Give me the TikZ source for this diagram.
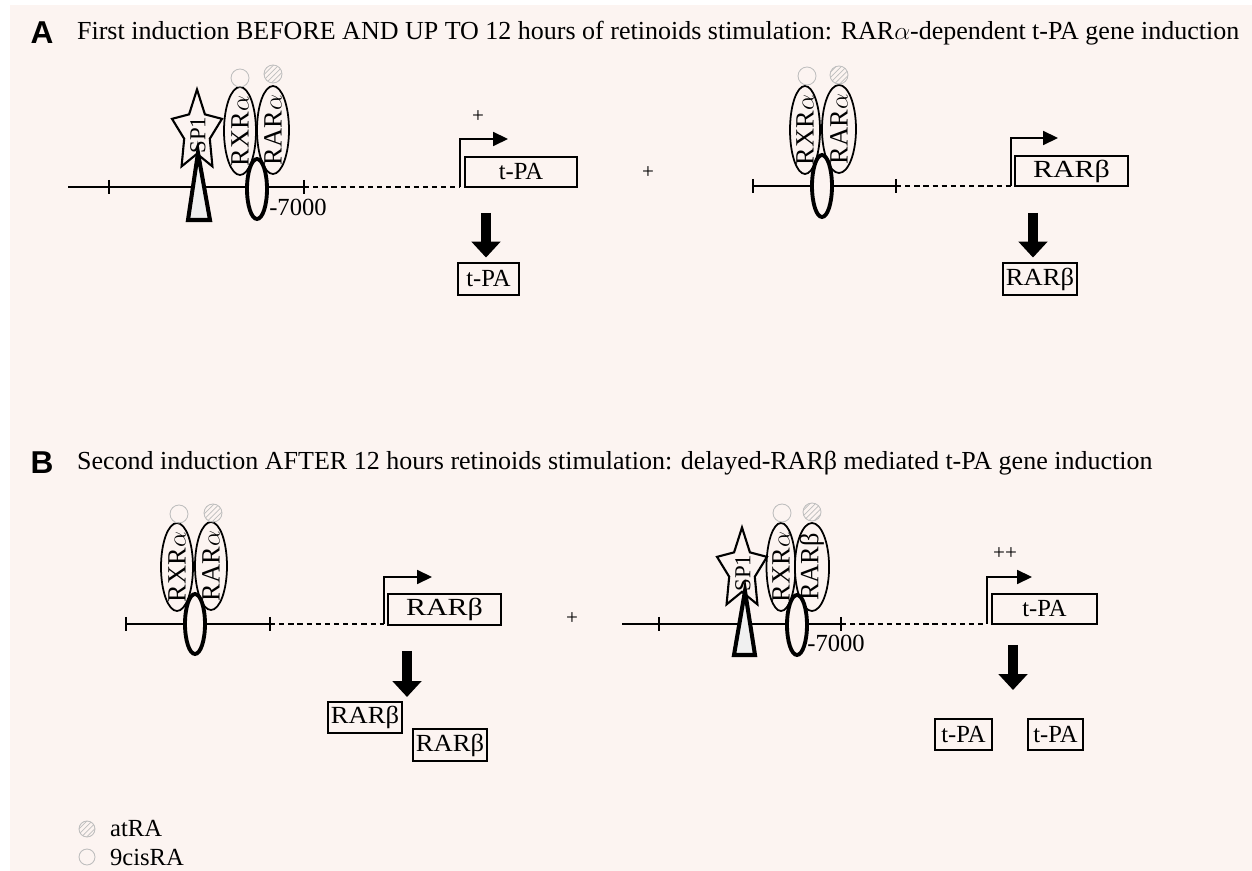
\documentclass[tikz,border=0pt]{standalone}
\usepackage{fontspec}
\setmainfont{Liberation Serif}
\newfontfamily\panelfont{Liberation Sans}
\usepackage{tikz}
\usetikzlibrary{positioning,shapes.geometric,arrows.meta,patterns}
\definecolor{bgpink}{RGB}{252,244,241}
\definecolor{ligand}{RGB}{190,190,190}
\newcommand{\rcp}[1]{\makebox[0pt]{#1}}
\newcommand{\rarb}{\scalebox{1.22}[1]{RARβ}}
\newcommand{\rarbp}{\scalebox{1.08}[1]{RARβ}}

\begin{document}
\begin{tikzpicture}[x=0.02cm, y=-0.02cm,
    every node/.style={inner sep=1pt, font=\fontsize{14}{16}\selectfont},
    dna/.style={line width=1.1pt},
    spacer/.style={line width=1.1pt, dash pattern=on 3pt off 2.2pt},
    promoter/.style={line width=0.9pt, -{Triangle[length=8.5pt,width=8pt]}},
    gene/.style={draw, line width=1.2pt, fill=bgpink, inner sep=0pt, minimum height=0.6cm},
    receptor/.style={draw, ellipse, line width=1pt, fill=bgpink, rotate=90, inner sep=0pt,
        minimum width=1.76cm, minimum height=0.64cm, font=\fontsize{15}{15}\selectfont},
    hinge/.style={draw, ellipse, line width=2.2pt, fill=bgpink, inner sep=0pt,
        minimum width=0.4cm, minimum height=1.2cm},
    spstar/.style={draw, star, star points=5, star point ratio=1.95, line width=1.2pt,
        fill=bgpink, inner sep=0pt, minimum size=1.05cm, yscale=1.62},
    wedgebox/.style={line width=2.3pt, fill=gray!12, line join=miter},
    cisra/.style={draw=ligand, circle, line width=0.5pt, inner sep=0pt, minimum size=0.36cm},
    atra/.style={cisra, pattern=north east lines, pattern color=ligand},
    bigarrow/.style={line width=5.7pt, -{Triangle[length=9pt,width=16pt]}},
    heading/.style={anchor=west, font=\fontsize{14.8}{17}\selectfont},
]
\useasboundingbox (0,0) rectangle (1252,871);
\fill[bgpink] (10,5) rectangle (1252,871);

% panel A
\node[font=\panelfont\bfseries\fontsize{18}{18}\selectfont] (LA) at (42,33) {A};
\node[heading] (TA) at (75,33) {First induction BEFORE AND UP TO 12 hours of retinoids stimulation: RAR$\alpha$-dependent t-PA gene induction};

% t-PA promoter, first induction
\coordinate (T1) at (460,187);
\draw[dna] (68,187) -- (304,187);
\draw[dna] (109,180) -- (109,194) (304,180) -- (304,194);
\draw[spacer] (304,187) -- (T1);
\node[receptor] (RXR1) at (240,131) {\rcp{RXR$\alpha$}};
\node[receptor] (RAR1) at (273,130) {\rcp{RAR$\alpha$}};
\node[cisra] (c1) at (240,78) {};
\node[atra] (a1) at (273,74) {};
\node[hinge] (H1) at (257,189) {};
\node[spstar] (S1) at (197,132) {};
\node[rotate=90, font=\fontsize{13}{13}\selectfont] (SP1) at (198,135) {SP1};
\draw[wedgebox] (198,153) -- (210,220) -- (188,220) -- cycle;
\node (M1) at (298,207) {-7000};
\node[gene, minimum width=2.24cm] (G1) at (521,172) {t-PA};
\draw[promoter] (T1) |- (508,139);
\node[font=\fontsize{12}{12}\selectfont] (p1) at (478,117) {+};
\node[gene, minimum width=1.22cm, minimum height=0.64cm] (P1) at (488.5,279) {t-PA};
\coordinate (d1) at (486,213);
\draw[bigarrow, shorten >=2.5pt] (d1) -- (d1 |- P1.north);

\node[font=\fontsize{12}{12}\selectfont] (plusA) at (648,173) {+};

% RARbeta promoter, first induction
\coordinate (T2) at (1011,186);
\draw[dna] (753,186) -- (896,186);
\draw[dna] (753,179) -- (753,193) (896,179) -- (896,193);
\draw[spacer] (896,186) -- (T2);
\node[receptor, minimum height=0.6cm] (RXR2) at (805,130) {\rcp{RXR$\alpha$}};
\node[receptor, minimum height=0.68cm] (RAR2) at (839,129) {\rcp{RAR$\alpha$}};
\node[cisra] (c2) at (807,76) {};
\node[atra] (a2) at (839,75) {};
\node[hinge, minimum height=1.24cm] (H2) at (822,186) {};
\node[gene, minimum width=2.26cm] (G2) at (1071.5,171) {\rarb};
\draw[promoter] (T2) |- (1058,138);
\node[gene, minimum width=1.48cm, minimum height=0.64cm] (P2) at (1040,279) {\rarbp};
\coordinate (d2) at (1033,213);
\draw[bigarrow, shorten >=2.5pt] (d2) -- (d2 |- P2.north);

% panel B
\node[font=\panelfont\bfseries\fontsize{18}{18}\selectfont] (LB) at (42,463) {B};
\node[heading] (TB) at (75,463) {Second induction AFTER 12 hours retinoids stimulation: delayed-RARβ mediated t-PA gene induction};

% RARbeta promoter, second induction
\coordinate (T3) at (384,624);
\draw[dna] (126,624) -- (270,624);
\draw[dna] (126,617) -- (126,631) (270,617) -- (270,631);
\draw[spacer] (270,624) -- (T3);
\node[receptor] (RXR3) at (177,567) {\rcp{RXR$\alpha$}};
\node[receptor] (RAR3) at (211,566) {\rcp{RAR$\alpha$}};
\node[cisra] (c3) at (179,514) {};
\node[atra] (a3) at (213,513) {};
\node[hinge] (H3) at (195,624) {};
\node[gene, minimum width=2.26cm, minimum height=0.62cm] (G3) at (444.5,609.5) {\rarb};
\draw[promoter] (T3) |- (432,577);
\node[gene, minimum width=1.48cm, minimum height=0.62cm] (P3) at (365,717.5) {\rarbp};
\node[gene, minimum width=1.48cm, minimum height=0.64cm] (P4) at (450,745) {\rarbp};
\coordinate (d3) at (407,651);
\draw[bigarrow] (d3) -- (407,697);

\node[font=\fontsize{12}{12}\selectfont] (plusB) at (572,619) {+};

% t-PA promoter, second induction
\coordinate (T4) at (987,624);
\draw[dna] (622,624) -- (841,624);
\draw[dna] (659,617) -- (659,631) (841,617) -- (841,631);
\draw[spacer] (841,624) -- (T4);
\node[receptor, minimum height=0.58cm] (RXR4) at (781,567) {\rcp{RXR$\alpha$}};
\node[receptor, minimum height=0.6cm] (RAR4) at (812,567) {\rcp{RARβ}};
\node[cisra] (c4) at (782,513) {};
\node[atra] (a4) at (812,512) {};
\node[hinge] (H4) at (797,625) {};
\node[spstar] (S4) at (742,570) {};
\node[rotate=90, font=\fontsize{13}{13}\selectfont] (SP4) at (743,573) {SP1};
\draw[wedgebox] (745,591) -- (755,655) -- (734,655) -- cycle;
\node (M4) at (836,643) {-7000};
\node[gene, minimum width=2.1cm] (G4) at (1044.5,609) {t-PA};
\draw[promoter] (T4) |- (1032,577);
\node[font=\fontsize{12}{12}\selectfont] (p4) at (1005,554) {++};
\node[gene, minimum width=1.14cm, minimum height=0.62cm] (P5) at (963.5,734.5) {t-PA};
\node[gene, minimum width=1.1cm, minimum height=0.62cm] (P6) at (1055.5,734.5) {t-PA};
\coordinate (d4) at (1013,645);
\draw[bigarrow] (d4) -- (1013,690);

% legend
\node[atra, minimum size=0.32cm] (LA1) at (87,829) {};
\node[anchor=west] (LT1) at (108,829) {atRA};
\node[cisra, minimum size=0.32cm] (LC1) at (87,857) {};
\node[anchor=west] (LT2) at (108,857) {9cisRA};
\end{tikzpicture}
\end{document}
